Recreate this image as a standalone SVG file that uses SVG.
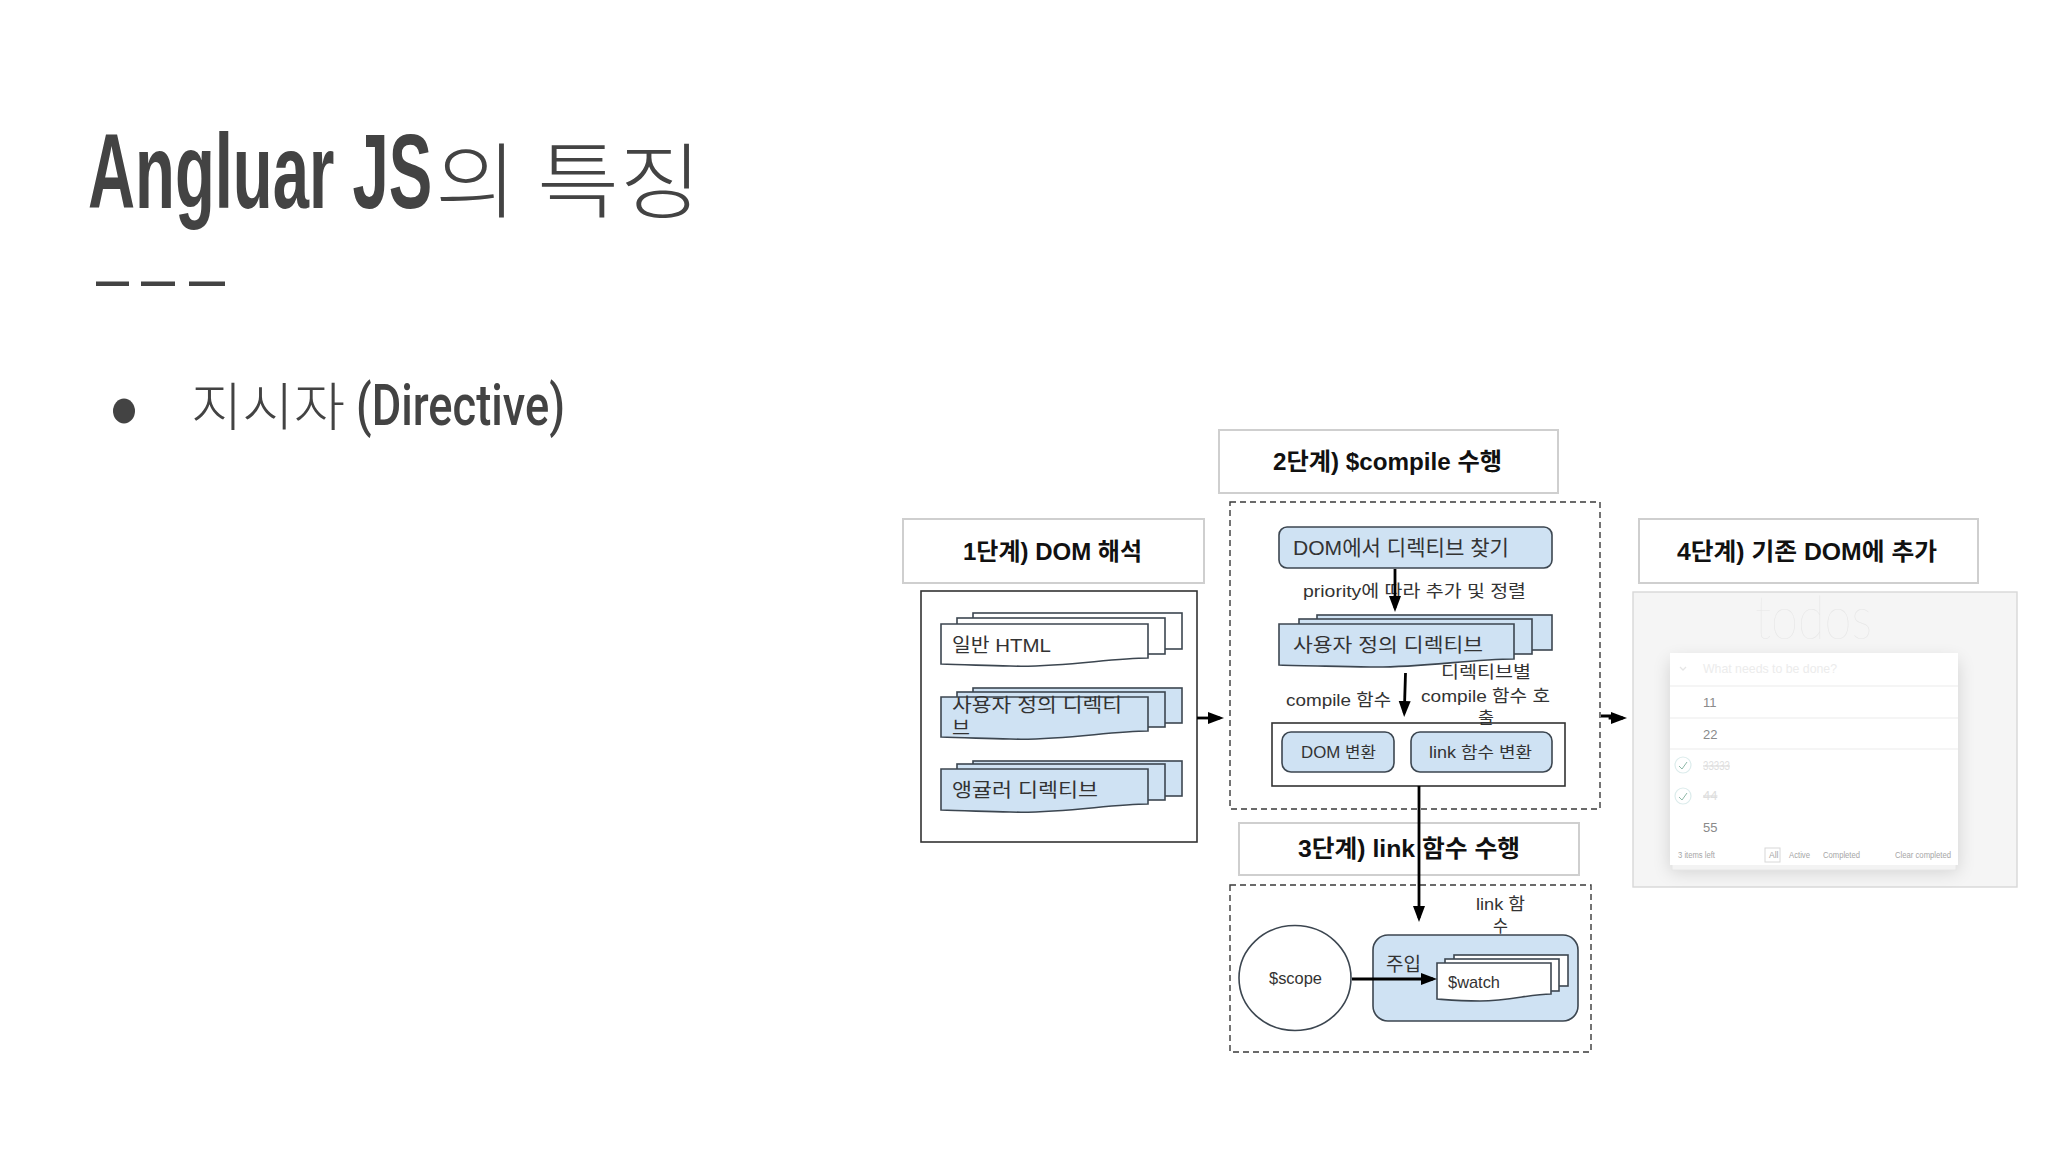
<svg xmlns="http://www.w3.org/2000/svg" width="2048" height="1152" viewBox="0 0 2048 1152">
<style>
text{font-family:"Liberation Sans","Noto Sans CJK KR",sans-serif}
.slide{fill:#434343}
.head{font-weight:700;fill:#434343}
.ko{font-family:"Noto Sans CJK KR","Liberation Sans",sans-serif;font-weight:300}
.lbl{font-size:24px;font-weight:700;fill:#111}
.t{font-size:19px;fill:#333}
.s{font-size:17px;fill:#333}
.tag{fill:#fff;stroke:#cfcfcf;stroke-width:2}
.panel{fill:#fff;stroke:#333;stroke-width:1.6}
.dash{fill:none;stroke:#3a3a3a;stroke-width:1.4;stroke-dasharray:6 4}
.blue{fill:#cfe2f3;stroke:#3c4650;stroke-width:1.6}
.white{fill:#fff;stroke:#3c4650;stroke-width:1.6}
.conn{fill:none;stroke:#000;stroke-width:2.8;marker-end:url(#arrow)}
.rule{stroke:#ececec;stroke-width:1.2}
.faint{fill:#dedede;font-size:13px}
.foot{fill:#a6a6a6;font-size:8.5px}
.num{fill:#8a8a8a;font-size:13px}
</style>
<defs>
<marker id="arrow" markerUnits="userSpaceOnUse" markerWidth="18" markerHeight="14" refX="12" refY="6.5" orient="auto">
<path d="M0 0.5L16 6.5L0 12.5Z" fill="#000"/>
</marker>
<filter id="shadow" x="-15%" y="-15%" width="130%" height="130%"><feGaussianBlur stdDeviation="9"/></filter>
</defs>
<rect width="2048" height="1152" fill="#fff"/>

<g id="title">
<text class="head" transform="translate(88 208) scale(.621 1)" font-size="105">Angluar JS</text>
<text class="slide ko" transform="translate(435 211) scale(1.09 1)" font-size="82">의 특징</text>
<path class="slide" d="M96 281.500h33v4.500h-33zM141 281.500h34v4.500h-34zM189 281.500h36v4.500h-36z"/>
</g>
<g id="bullet">
<ellipse class="slide" cx="124" cy="411" rx="11" ry="12.500"/>
<text class="slide ko" x="191" y="426" font-size="52" textLength="154" lengthAdjust="spacingAndGlyphs">지시자</text>
<text x="356" y="425" style="font-family:Roboto,'Liberation Sans',sans-serif;font-weight:500" fill="#434343" font-size="58" textLength="209" lengthAdjust="spacingAndGlyphs">(Directive)</text>
</g>

<g id="step1-label"><rect class="tag" x="903" y="519" width="301" height="64"/><text class="lbl" x="963" y="560" textLength="179" lengthAdjust="spacingAndGlyphs">1단계) DOM 해석</text></g>
<g id="step1-panel"><rect class="panel" x="921" y="591" width="276" height="251"/></g>
<g id="doc-html">
<rect class="white" x="973" y="613" width="209" height="36"/><rect class="white" x="957" y="618" width="208" height="36"/>
<path class="white" d="M941 624H1148V658C1110 658 1060 668 1010 666C980 665 960 665 941 664Z"/>
<text class="t" x="952" y="652" textLength="99" lengthAdjust="spacingAndGlyphs">일반 HTML</text>
</g>
<g id="doc-custom">
<rect class="blue" x="973" y="688" width="209" height="35"/><rect class="blue" x="957" y="692" width="208" height="35"/>
<path class="blue" d="M941 697H1148V731C1110 731 1060 741 1010 739C980 738 960 738 941 737Z"/>
<text class="t" x="952" y="712" textLength="170" lengthAdjust="spacingAndGlyphs">사용자 정의 디렉티</text>
<text class="t" x="952" y="735" textLength="18" lengthAdjust="spacingAndGlyphs">브</text>
</g>
<g id="doc-angular">
<rect class="blue" x="973" y="761" width="209" height="35"/><rect class="blue" x="957" y="764" width="208" height="36"/>
<path class="blue" d="M941 769H1148V804C1110 804 1060 814 1010 812C980 811 960 811 941 810Z"/>
<text class="t" x="952" y="797" textLength="146" lengthAdjust="spacingAndGlyphs">앵귤러 디렉티브</text>
</g>

<g id="step2-label"><rect class="tag" x="1219" y="430" width="339" height="63"/><text class="lbl" x="1273" y="470" textLength="229" lengthAdjust="spacingAndGlyphs">2단계) $compile 수행</text></g>
<g id="step2-frame"><rect class="dash" x="1230" y="502" width="370" height="307"/></g>
<g id="find-directive"><rect class="blue" x="1279" y="527" width="273" height="41" rx="8"/><text class="t" x="1293" y="555" style="font-size:21px" textLength="216" lengthAdjust="spacingAndGlyphs">DOM에서 디렉티브 찾기</text></g>
<text class="s" x="1303" y="597" textLength="223" lengthAdjust="spacingAndGlyphs">priority에 따라 추가 및 정렬</text>
<g id="doc-sorted">
<rect class="blue" x="1317" y="615" width="235" height="35"/><rect class="blue" x="1299" y="619" width="233" height="35"/>
<path class="blue" d="M1279 624H1514V659C1470 659 1420 668 1370 667C1330 666 1305 666 1279 665Z"/>
<text class="t" x="1293" y="652" textLength="190" lengthAdjust="spacingAndGlyphs">사용자 정의 디렉티브</text>
</g>
<g id="compile-result">
<rect class="panel" x="1272" y="723" width="293" height="63"/>
<rect class="blue" x="1282" y="732" width="112" height="40" rx="9"/><text class="s" x="1301" y="758" style="font-size:16px" textLength="75" lengthAdjust="spacingAndGlyphs">DOM 변환</text>
<rect class="blue" x="1411" y="732" width="141" height="40" rx="9"/><text class="s" x="1429" y="758" style="font-size:16px" textLength="103" lengthAdjust="spacingAndGlyphs">link 함수  변환</text>
</g>
<text class="s" x="1286" y="706" textLength="105" lengthAdjust="spacingAndGlyphs">compile 함수</text>
<text class="s" x="1441" y="678" textLength="90" lengthAdjust="spacingAndGlyphs">디렉티브별</text>
<text class="s" x="1421" y="702" textLength="129" lengthAdjust="spacingAndGlyphs">compile 함수 호</text>
<text class="s" x="1478" y="724" textLength="16" lengthAdjust="spacingAndGlyphs">출</text>

<g id="step3-label"><rect class="tag" x="1239" y="823" width="340" height="52"/><text class="lbl" x="1298" y="857" textLength="222" lengthAdjust="spacingAndGlyphs">3단계) link 함수 수행</text></g>
<g id="step3-frame"><rect class="dash" x="1230" y="885" width="361" height="167"/></g>
<g id="scope"><ellipse class="white" cx="1295" cy="978" rx="56" ry="52.500"/><text class="s" x="1269" y="984" textLength="53" lengthAdjust="spacingAndGlyphs">$scope</text></g>
<g id="link-fn">
<rect class="blue" x="1373" y="935" width="205" height="86" rx="15"/>
<text class="t" x="1386" y="971" textLength="35" lengthAdjust="spacingAndGlyphs">주입</text>
<rect class="white" x="1454" y="955" width="114" height="31"/><rect class="white" x="1445" y="959" width="114" height="32"/>
<path class="white" d="M1437 963H1551V994C1530 994 1510 1001 1480 1001C1460 1001 1450 1000 1437 999Z"/>
<text class="s" x="1448" y="988" textLength="52" lengthAdjust="spacingAndGlyphs">$watch</text>
</g>
<text class="s" x="1476" y="910" textLength="49" lengthAdjust="spacingAndGlyphs">link 함</text>
<text class="s" x="1493" y="932" textLength="15" lengthAdjust="spacingAndGlyphs">수</text>

<g id="step4-label"><rect class="tag" x="1639" y="519" width="339" height="64"/><text class="lbl" x="1677" y="560" textLength="260" lengthAdjust="spacingAndGlyphs">4단계) 기존 DOM에 추가</text></g>
<g id="todo-screenshot">
<rect x="1633" y="592" width="384" height="295" fill="#f5f5f5" stroke="#d8d8d8" stroke-width="1.4"/>
<text x="1755" y="639" style="font-size:60px;font-weight:100;font-family:Lato,'Open Sans',sans-serif" fill="#e6e6e6" textLength="117" lengthAdjust="spacingAndGlyphs">todos</text>
<rect x="1670" y="660" width="288" height="212" fill="#000" opacity=".14" filter="url(#shadow)"/>
<rect x="1672" y="862" width="284" height="8" fill="#f3f3f3" stroke="#e6e6e6"/>
<rect x="1670" y="653" width="288" height="212" fill="#fff"/>
<path class="rule" d="M1670 686H1958M1670 718H1958M1670 749H1958"/>
<path d="M1680 667l3 3l3-3" fill="none" stroke="#e6e6e6" stroke-width="1.300"/>
<text class="faint" x="1703" y="673" textLength="134" lengthAdjust="spacingAndGlyphs" style="fill:#ececec">What needs to be done?</text>
<text class="num" x="1703" y="707">11</text>
<text class="num" x="1703" y="739">22</text>
<g fill="none" stroke="#dcecec" stroke-width="1.200"><circle cx="1683" cy="765" r="8"/><circle cx="1683" cy="796" r="8"/></g>
<path d="M1679 766l3 3l5-7M1679 797l3 3l5-7" fill="none" stroke="#8fb8a8" stroke-width="1"/>
<text class="faint" x="1703" y="770" textLength="27" lengthAdjust="spacingAndGlyphs" text-decoration="line-through">33333</text>
<text class="faint" x="1703" y="800" text-decoration="line-through">44</text>
<text class="num" x="1703" y="832">55</text>
<text class="foot" x="1678" y="858" textLength="37" lengthAdjust="spacingAndGlyphs">3 items left</text>
<rect x="1765" y="848" width="15" height="14" fill="none" stroke="#d8d8d8"/>
<text class="foot" x="1769" y="858">All</text>
<text class="foot" x="1789" y="858" textLength="21" lengthAdjust="spacingAndGlyphs">Active</text>
<text class="foot" x="1823" y="858" textLength="37" lengthAdjust="spacingAndGlyphs">Completed</text>
<text class="foot" x="1895" y="858" textLength="56" lengthAdjust="spacingAndGlyphs">Clear completed</text>
</g>

<g id="connectors">
<path class="conn" d="M1197 718H1220"/>
<path class="conn" d="M1601 716H1610V718H1623"/>
<path class="conn" d="M1395 569V608"/>
<path class="conn" d="M1405.500 673L1404.300 713"/>
<path class="conn" d="M1419 786V918"/>
<path class="conn" d="M1352 979H1433"/>
</g>
</svg>
